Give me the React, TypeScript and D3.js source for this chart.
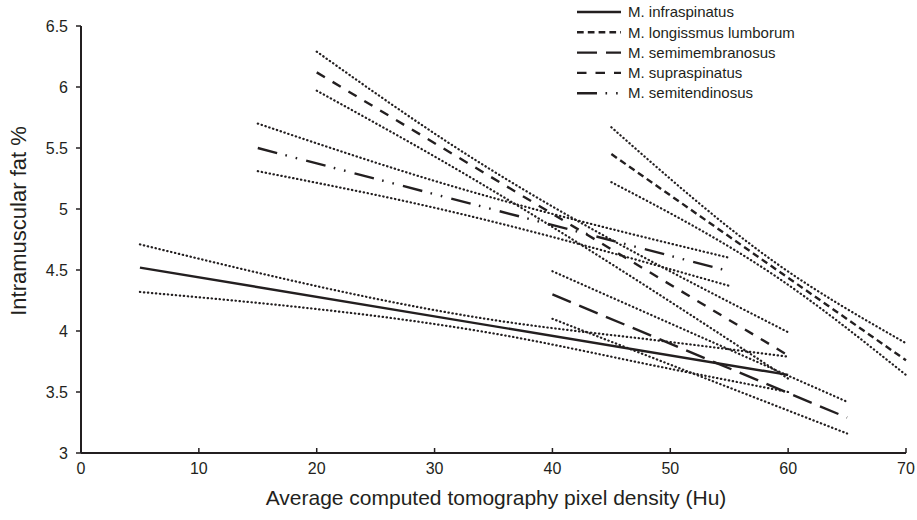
import React from "react";
import * as d3 from "d3";

const W = 917;
const H = 520;
const FONT = "'Liberation Sans', Arial, Helvetica, sans-serif";
const INK = "#231f20";

// axis ticks
const xTicks = [0, 10, 20, 30, 40, 50, 60, 70];
const yTicks = [3, 3.5, 4, 4.5, 5, 5.5, 6, 6.5];
const yTickLabels = ["3", "3.5", "4", "4.5", "5", "5.5", "6", "6.5"];

// legend names
const names = [
  "M. infraspinatus",
  "M. longissmus lumborum",
  "M. semimembranosus",
  "M. supraspinatus",
  "M. semitendinosus",
];

// M. infraspinatus
const infraX = [5, 60];
const infraFit = [4.52, 3.64];
const infraCiX = [5, 35, 50, 60];
const infraUpper = [4.71, 4.09, 3.91, 3.79];
const infraLower = [4.32, 3.98, 3.69, 3.5];

// M. longissmus lumborum
const longX = [45, 70];
const longFit = [5.45, 3.76];
const longCiX = [45, 59, 70];
const longUpper = [5.67, 4.555, 3.9];
const longLower = [5.22, 4.445, 3.64];

// M. semimembranosus
const semimemX = [40, 65];
const semimemFit = [4.3, 3.29];
const semimemCiX = [40, 65];
const semimemUpper = [4.49, 3.42];
const semimemLower = [4.1, 3.16];

// M. supraspinatus
const supraX = [20, 60];
const supraFit = [6.12, 3.8];
const supraCiX = [20, 31, 60];
const supraUpper = [6.29, 5.555, 3.99];
const supraLower = [5.97, 5.375, 3.61];

// M. semitendinosus
const semitenX = [15, 55];
const semitenFit = [5.5, 4.49];
const semitenCiX = [15, 30, 55];
const semitenUpper = [5.7, 5.23, 4.6];
const semitenLower = [5.31, 5.01, 4.37];

const dashes = ["none", "6.7,4.1", "20,9", "9.5,9", "20,8.5,1.6,9,1.6,9.3"];

const series = [
  { x: infraX, fit: infraFit, ciX: infraCiX, up: infraUpper, lo: infraLower },
  { x: longX, fit: longFit, ciX: longCiX, up: longUpper, lo: longLower },
  { x: semimemX, fit: semimemFit, ciX: semimemCiX, up: semimemUpper, lo: semimemLower },
  { x: supraX, fit: supraFit, ciX: supraCiX, up: supraUpper, lo: supraLower },
  { x: semitenX, fit: semitenFit, ciX: semitenCiX, up: semitenUpper, lo: semitenLower },
];

export default function App() {
  const x = d3.scaleLinear().domain([0, 70]).range([81, 906]);
  const y = d3.scaleLinear().domain([3, 6.5]).range([453, 26]);

  const straight = d3
    .line<[number, number]>()
    .x((d) => x(d[0]))
    .y((d) => y(d[1]));
  const curved = d3
    .line<[number, number]>()
    .x((d) => x(d[0]))
    .y((d) => y(d[1]))
    .curve(d3.curveMonotoneX);

  const zip = (a: number[], b: number[]) => a.map((v, i) => [v, b[i]] as [number, number]);

  return (
    <svg
      width={W}
      height={H}
      style={{ position: "absolute", left: 0, top: 0, background: "#fff" }}
      fontFamily={FONT}
    >
      {/* axes */}
      <line x1={x(0)} x2={x(0)} y1={y(6.5)} y2={y(3)} stroke={INK} strokeWidth={2} />
      <line x1={x(0)} x2={x(70)} y1={y(3)} y2={y(3)} stroke={INK} strokeWidth={2} />
      {yTicks.map((t, i) => (
        <g key={"y" + t}>
          <line x1={x(0) - 5} x2={x(0)} y1={y(t)} y2={y(t)} stroke={INK} strokeWidth={1.5} />
          <text x={x(0) - 13} y={y(t)} dy="0.35em" textAnchor="end" fontSize={16} fill={INK}>
            {yTickLabels[i]}
          </text>
        </g>
      ))}
      {xTicks.map((t) => (
        <g key={"x" + t}>
          <line x1={x(t)} x2={x(t)} y1={y(3)} y2={y(3) - 5} stroke={INK} strokeWidth={1.5} />
          <text x={x(t)} y={y(3) + 21} textAnchor="middle" fontSize={16} fill={INK}>
            {t}
          </text>
        </g>
      ))}
      <text x={496} y={505} textAnchor="middle" fontSize={21} fill={INK}>
        Average computed tomography pixel density (Hu)
      </text>
      <text
        transform={`translate(26,221) rotate(-90)`}
        textAnchor="middle"
        fontSize={22}
        fill={INK}
      >
        Intramuscular fat %
      </text>

      {/* confidence bounds */}
      {series.map((s, i) => (
        <g
          key={"ci" + i}
          fill="none"
          stroke={INK}
          strokeWidth={2.2}
          strokeLinecap="round"
          strokeDasharray="0.4,3.6"
        >
          <path d={curved(zip(s.ciX, s.up)) || ""} />
          <path d={curved(zip(s.ciX, s.lo)) || ""} />
        </g>
      ))}
      {/* fitted lines */}
      {series.map((s, i) => (
        <path
          key={"fit" + i}
          d={straight(zip(s.x, s.fit)) || ""}
          fill="none"
          stroke={INK}
          strokeWidth={2.4}
          strokeDasharray={dashes[i]}
        />
      ))}

      {/* legend */}
      {names.map((n, i) => {
        const ly = 12 + i * 20.3;
        return (
          <g key={"lg" + i}>
            <line
              x1={577}
              x2={621}
              y1={ly}
              y2={ly}
              stroke={INK}
              strokeWidth={2.4}
              strokeDasharray={dashes[i]}
            />
            <text x={628} y={ly} dy="0.35em" fontSize={15} fill={INK}>
              {n}
            </text>
          </g>
        );
      })}
    </svg>
  );
}
